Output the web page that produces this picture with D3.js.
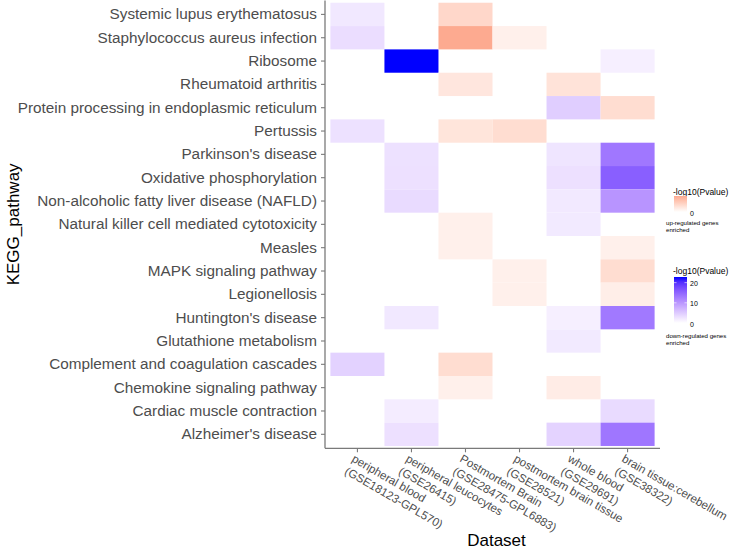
<!DOCTYPE html>
<html><head><meta charset="utf-8">
<script src="https://cdn.jsdelivr.net/npm/d3@7"></script>
<style>html,body{margin:0;padding:0;background:#fff;}svg{display:block;font-family:"Liberation Sans",Arial,sans-serif;}</style>
</head><body><svg id="chart" width="730" height="549"></svg>
<script>
// ---- data ----
const pathways = [
  "Systemic lupus erythematosus","Staphylococcus aureus infection","Ribosome","Rheumatoid arthritis",
  "Protein processing in endoplasmic reticulum","Pertussis","Parkinson's disease","Oxidative phosphorylation",
  "Non-alcoholic fatty liver disease (NAFLD)","Natural killer cell mediated cytotoxicity","Measles",
  "MAPK signaling pathway","Legionellosis","Huntington's disease","Glutathione metabolism",
  "Complement and coagulation cascades","Chemokine signaling pathway","Cardiac muscle contraction","Alzheimer's disease"
];
const datasets = [
  ["peripheral blood","(GSE18123-GPL570)"],
  ["peripheral leucocytes","(GSE26415)"],
  ["Postmortem Brain","(GSE28475-GPL6883)"],
  ["postmortem brain tissue","(GSE28521)"],
  ["whole blood","(GSE29691)"],
  ["brain tissue:cerebellum","(GSE38322)"]
];
// -log10(Pvalue) per dataset, one entry per pathway (same order as pathways).
// Positive = up-regulated genes enriched, negative = down-regulated genes enriched, null = not enriched.
const gse18123 = [-2.2,-3.2,null,null,null,-2.8,null,null,null,null,null,null,null,null,null,-4.3,null,null,null];
const gse26415 = [null,null,-22.8,null,null,null,-2.8,-2.9,-3.4,null,null,null,null,-2.2,null,null,null,-1.8,-2.9];
const gse28475 = [2.1,4.5,null,1.3,null,1.4,null,null,null,0.8,0.8,null,null,null,null,1.8,0.8,null,null];
const gse28521 = [null,0.8,null,null,null,1.8,null,null,null,null,null,0.8,0.8,null,null,null,null,null,null];
const gse29691 = [null,null,null,1.5,-4.7,null,-2.5,-2.9,-2.1,-2.0,null,null,null,-1.5,-2.0,null,1.0,null,-4.2];
const gse38322 = [null,null,-1.5,null,1.8,null,-13.2,-15.6,-10.3,null,0.8,1.8,0.9,-13.0,null,null,null,-3.4,-13.3];
const seriesValues = [gse18123,gse26415,gse28475,gse28521,gse29691,gse38322];
const downBreaks = [0,10,20];
const upBreaks = [0];

// ---- build table ----
const cells = [];
seriesValues.forEach((arr,j)=>arr.forEach((v,i)=>{ if(v!==null) cells.push({pathway:pathways[i], dataset:datasets[j].join("\n"), value:v}); }));
const upMax = d3.max(cells.filter(d=>d.value>0), d=>d.value);
const downMax = d3.max(cells.filter(d=>d.value<0), d=>-d.value);

const svg = d3.select("#chart");
const panel = {left:325, right:660, top:0.4, bottom:448.3};

const x = d3.scaleBand().domain(datasets.map(d=>d.join("\n"))).range([panel.left,panel.right]).paddingInner(0).paddingOuter(0.1);
const y = d3.scaleBand().domain(pathways).range([panel.top,panel.bottom]).paddingInner(0).paddingOuter(0.1);

const upColor = d3.scaleLinear().domain([0,upMax]).range(["#ffffff","#FDAA90"]).interpolate(d3.interpolateLab);
const downColor = d3.scaleLinear().domain([0,downMax]).range(["#ffffff","#0000ff"]).interpolate(d3.interpolateLab);

svg.append("g").selectAll("rect").data(cells).join("rect")
  .attr("x", d=>x(d.dataset)).attr("y", d=>y(d.pathway))
  .attr("width", x.bandwidth()).attr("height", y.bandwidth())
  .attr("fill", d=> d.value>0 ? upColor(d.value) : downColor(-d.value));

// ---- axes ----
const axisCol = "#7a7a7a";
const FONT = "Liberation Sans, Arial, sans-serif";
const yAxis = svg.append("g").attr("transform",`translate(${panel.left},0)`)
  .call(d3.axisLeft(y).tickSize(4).tickPadding(4));
yAxis.select(".domain").attr("d",`M0,${panel.top}V${panel.bottom}`).attr("stroke",axisCol).attr("stroke-width",1.3);
yAxis.selectAll(".tick line").attr("stroke",axisCol).attr("stroke-width",1.1);
yAxis.selectAll(".tick text").attr("fill","#4d4d4d").attr("font-size","15.3px").attr("font-family",FONT);

const xAxis = svg.append("g").attr("transform",`translate(0,${panel.bottom})`)
  .call(d3.axisBottom(x).tickSize(4).tickFormat(""));
xAxis.select(".domain").attr("d",`M${panel.left},0H${panel.right}`).attr("stroke",axisCol).attr("stroke-width",1.3);
xAxis.selectAll(".tick line").attr("stroke",axisCol).attr("stroke-width",1.1);
xAxis.selectAll(".tick").each(function(d){
  const lines = d.split("\n");
  const t = d3.select(this).append("g").attr("transform","translate(-2,5) rotate(30)")
    .append("text").attr("text-anchor","start").attr("fill","#4d4d4d").attr("font-size","11.6px").attr("font-family",FONT);
  lines.forEach((l,k)=>t.append("tspan").attr("x",0).attr("y",9+k*14.2).text(l));
});

svg.append("text").attr("transform",`translate(13,${(panel.top+panel.bottom)/2}) rotate(-90)`)
  .attr("text-anchor","middle").attr("dominant-baseline","central").attr("font-size","17px").attr("fill","#000").text("KEGG_pathway");
svg.append("text").attr("x",(panel.left+panel.right)/2+4).attr("y",540).attr("text-anchor","middle").attr("dominant-baseline","central")
  .attr("font-size","17px").attr("fill","#000").text("Dataset");

// ---- legends ----
const defs = svg.append("defs");
function grad(id, scale, max){
  const g = defs.append("linearGradient").attr("id",id).attr("x1",0).attr("x2",0).attr("y1",1).attr("y2",0);
  d3.range(0,1.0001,0.1).forEach(t=>g.append("stop").attr("offset",t).attr("stop-color",scale(t*max)));
}
grad("gUp", upColor, upMax);
grad("gDown", downColor, downMax);

// up legend
const upL = {x:674, y0:196, y1:212};
svg.append("text").attr("x",673).attr("y",192).attr("dominant-baseline","central").attr("font-size","8.5px").text("-log10(Pvalue)");
svg.append("rect").attr("x",upL.x).attr("y",upL.y0).attr("width",13).attr("height",upL.y1-upL.y0).attr("fill","url(#gUp)");
const upS = d3.scaleLinear().domain([0,upMax]).range([upL.y1,upL.y0]);
upBreaks.forEach(b=>svg.append("text").attr("x",690).attr("y",upS(b)+1.5).attr("dominant-baseline","central").attr("font-size","7px").text(b));
svg.append("text").attr("x",666).attr("y",222).attr("dominant-baseline","central").attr("font-size","6.1px").text("up-regulated genes");
svg.append("text").attr("x",666).attr("y",229).attr("dominant-baseline","central").attr("font-size","6.1px").text("enriched");

// down legend
const dnL = {x:674, y0:277, y1:323};
svg.append("text").attr("x",673).attr("y",271).attr("dominant-baseline","central").attr("font-size","8.5px").text("-log10(Pvalue)");
svg.append("rect").attr("x",dnL.x).attr("y",dnL.y0).attr("width",13).attr("height",dnL.y1-dnL.y0).attr("fill","url(#gDown)");
const dnS = d3.scaleLinear().domain([0,downMax]).range([dnL.y1,dnL.y0]);
downBreaks.forEach(b=>{
  svg.append("line").attr("x1",dnL.x).attr("x2",dnL.x+2.5).attr("y1",dnS(b)).attr("y2",dnS(b)).attr("stroke","#fff").attr("stroke-width",0.6);
  svg.append("line").attr("x1",dnL.x+10.5).attr("x2",dnL.x+13).attr("y1",dnS(b)).attr("y2",dnS(b)).attr("stroke","#fff").attr("stroke-width",0.6);
  svg.append("text").attr("x",690).attr("y",dnS(b)+1).attr("dominant-baseline","central").attr("font-size","7px").text(b);
});
svg.append("text").attr("x",666).attr("y",335).attr("dominant-baseline","central").attr("font-size","6.1px").text("down-regulated genes");
svg.append("text").attr("x",666).attr("y",342).attr("dominant-baseline","central").attr("font-size","6.1px").text("enriched");
</script></body></html>
